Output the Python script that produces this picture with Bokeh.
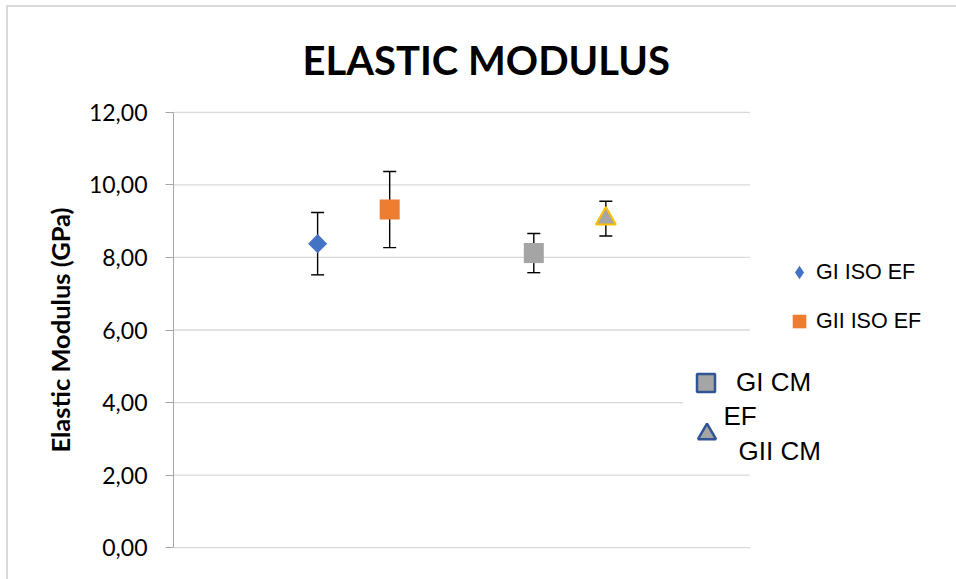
from bokeh.plotting import figure
from bokeh.models import (ColumnDataSource, Range1d, FixedTicker, Whisker, TeeHead,
                          Legend, LegendItem, Label)
from bokeh.embed import file_html
from bokeh.resources import INLINE
import math

# ---- data ----
series = ["GI ISO EF", "GII ISO EF", "GI CM EF", "GII CM EF"]
x_pos = [2, 3, 5, 6]
modulus = [8.38, 9.32, 8.12, 9.07]
std_dev = [0.86, 1.05, 0.54, 0.48]
y_ticks = [0, 2, 4, 6, 8, 10, 12]
y_tick_labels = ["0,00", "2,00", "4,00", "6,00", "8,00", "10,00", "12,00"]
x_domain = [0, 8]          # extent of the plotting area along the category axis

# ---- styles ----
markers = ["square", "square", "square", "triangle"]
angles = [math.pi / 4, 0, 0, 0]
sizes = [13.5, 20, 20, 20]
fills = ["#4472C4", "#ED7D31", "#A5A5A5", "#A5A5A5"]
lines = [None, None, None, "#FFC000"]

W, H = 948, 572
LEFT, TOP, BOTTOM = 165, 102, 32
AREA_W = 575                          # pixel width of the plotting area
x_end = x_domain[1] * (W - LEFT) / AREA_W   # frame extends right to hold the legend

p = figure(width=W, height=H, x_range=Range1d(x_domain[0], x_end),
           y_range=Range1d(-0.05, 12.05),
           output_backend="svg", toolbar_location=None, x_axis_location=None,
           min_border_left=LEFT, min_border_right=0, min_border_top=TOP,
           min_border_bottom=BOTTOM)
p.styles = {"margin-left": "6px", "margin-top": "5px", "box-sizing": "content-box",
            "border-left": "2px solid #D9D9D9", "border-top": "2px solid #D9D9D9"}
p.outline_line_color = None
p.background_fill_color = "white"
p.border_fill_color = "white"

p.title.text = "ELASTIC MODULUS"
p.title.text_font = "Lato"
p.title.text_font_style = "bold"
p.title.text_font_size = "40px"
p.title.text_color = "#000000"
p.title.align = "left"
p.title.offset = 129
p.title.standoff = 53

ax = p.yaxis[0]
ax.ticker = FixedTicker(ticks=y_ticks)
ax.bounds = (y_ticks[0], y_ticks[-1])
ax.major_label_overrides = {t: l for t, l in zip(y_ticks, y_tick_labels)}
ax.major_label_text_font = "Lato"
ax.major_label_text_font_size = "23px"
ax.major_label_text_color = "#000000"
ax.major_label_standoff = 18
ax.major_tick_in = 0
ax.major_tick_out = 8
ax.major_tick_line_color = "#A6A6A6"
ax.minor_tick_line_color = None
ax.axis_line_color = "#A6A6A6"
ax.axis_label = "Elastic Modulus (GPa)"
ax.axis_label_text_font = "Lato"
ax.axis_label_text_font_style = "bold"
ax.axis_label_text_font_size = "25.5px"
ax.axis_label_text_color = "#000000"
ax.axis_label_standoff = 11

p.ygrid.grid_line_color = None
p.xgrid.grid_line_color = None

# horizontal gridlines across the plotting area only
p.segment(x0=[x_domain[0]] * len(y_ticks), x1=[x_domain[1]] * len(y_ticks),
          y0=y_ticks, y1=y_ticks, line_color="#D9D9D9", line_width=1.3,
          level="underlay")

# error bars
src = ColumnDataSource(dict(
    x=x_pos, y=modulus,
    upper=[m + s for m, s in zip(modulus, std_dev)],
    lower=[m - s for m, s in zip(modulus, std_dev)],
))
w = Whisker(source=src, base="x", upper="upper", lower="lower", dimension="height",
            line_color="#000000", line_width=1.4, level="underlay",
            upper_head=TeeHead(size=13, line_color="#000000", line_width=1.4),
            lower_head=TeeHead(size=13, line_color="#000000", line_width=1.4))
p.add_layout(w)

for i in range(len(series)):
    p.scatter(x=[x_pos[i]], y=[modulus[i]], marker=markers[i], angle=angles[i],
              size=sizes[i], fill_color=fills[i],
              line_color=lines[i], line_width=2)

# legend glyph renderers (a single NaN point: nothing drawn in the plot)
def dummy(marker, fill, line=None, lw=1):
    return p.scatter(x=[float("nan")], y=[float("nan")],
                     marker=marker, fill_color=fill, line_color=line, line_width=lw)

d1 = dummy("diamond", "#4472C4")
d2 = dummy("square", "#ED7D31")
d3 = dummy("square", "#A5A5A5", "#2F5597", 2.5)
d4 = dummy("triangle", "#A5A5A5", "#2F5597", 2.5)

common = dict(orientation="vertical", margin=0, border_line_color=None,
              label_text_font="Liberation Sans", label_text_color="#000000",
              label_height=20)

legA = Legend(items=[LegendItem(label=series[0], renderers=[d1]),
                     LegendItem(label=series[1], renderers=[d2])],
              location=(609, 211), glyph_width=34, glyph_height=34,
              label_standoff=0, spacing=15, padding=0,
              background_fill_alpha=0, label_text_font_size="21.5px", **common)
p.add_layout(legA)

legB = Legend(items=[LegendItem(label="GI CM", renderers=[d3])],
              location=(510, 144), glyph_width=45, glyph_height=45,
              label_standoff=8, spacing=0, padding=2,
              background_fill_color="white", background_fill_alpha=1,
              label_text_font_size="26px", **common)
p.add_layout(legB)

legC = Legend(items=[LegendItem(label=" ", renderers=[d4])],
              location=(511, 93), glyph_width=45, glyph_height=45,
              label_standoff=8, spacing=0, padding=0,
              background_fill_alpha=0, label_text_font_size="26px", **common)
p.add_layout(legC)

for txt, lx, ly in [("EF", 550, 134), ("GII CM", 565, 99)]:
    p.add_layout(Label(x=lx, y=ly, x_units="screen", y_units="screen", text=txt,
                       text_font="Liberation Sans", text_font_size="26px",
                       text_color="#000000", text_align="left",
                       text_baseline="middle", level="overlay"))

open("out.html", "w").write(file_html(p, INLINE))
